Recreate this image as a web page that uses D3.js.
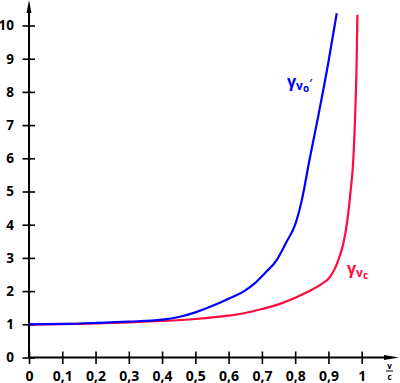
<!DOCTYPE html>
<html>
<head>
<meta charset="utf-8">
<script src="https://cdn.jsdelivr.net/npm/d3@7"></script>
<style>
  body { margin: 0; background: #fff; }
  text { font-family: "Open Sans", sans-serif; }
</style>
</head>
<body>
<div id="chart"></div>
<script>
// v/c and gamma readings for the two curves
const blueV     = [0, 0.1, 0.2, 0.3, 0.4, 0.45, 0.5, 0.55, 0.6, 0.65, 0.68, 0.71, 0.745, 0.775, 0.8, 0.82, 0.843, 0.87, 0.9, 0.925];
const blueGamma = [1, 1.01, 1.04, 1.08, 1.14, 1.22, 1.36, 1.55, 1.77, 2.02, 2.25, 2.55, 2.94, 3.5, 4.0, 4.74, 5.95, 7.3, 8.9, 10.37];
const redV      = [0, 0.2, 0.3, 0.4, 0.5, 0.6, 0.65, 0.7, 0.75, 0.8, 0.85, 0.88, 0.905, 0.93, 0.945, 0.957, 0.966, 0.975, 0.981, 0.985, 0.987];
const redGamma  = [1, 1.03, 1.06, 1.1, 1.16, 1.26, 1.34, 1.46, 1.6, 1.8, 2.04, 2.22, 2.43, 2.94, 3.44, 4.14, 4.95, 6.0, 7.5, 9.0, 10.32];

const xTicks = [0, 0.1, 0.2, 0.3, 0.4, 0.5, 0.6, 0.7, 0.8, 0.9, 1];
const yTicks = [0, 1, 2, 3, 4, 5, 6, 7, 8, 9, 10];

const WIDTH = 400;
const HEIGHT = 383;

const svg = d3.select('#chart')
    .append('svg')
    .attr('width', WIDTH)
    .attr('height', HEIGHT);

const x = d3.scaleLinear().domain([0, 1]).range([29, 361.7]);
const y = d3.scaleLinear().domain([0, 10]).range([357.5, 25.5]);

const fmt = d => d === 0 || d === 1 ? String(d) : d3.format('.1f')(d).replace('.', ',');

// x axis
const gx = svg.append('g')
    .attr('transform', `translate(0,${y(0)})`)
    .call(d3.axisBottom(x).tickValues(xTicks).tickFormat(fmt).tickSize(6).tickPadding(12));
gx.select('.domain').remove();
gx.selectAll('.tick line').attr('y1', -6).attr('y2', 6.5).attr('stroke', '#000').attr('stroke-width', 1.6);
gx.selectAll('.tick text')
    .attr('font-size', 14).attr('font-weight', 700).attr('fill', '#000')
    .attr('dy', null).attr('y', 23);

// y axis
const gy = svg.append('g')
    .attr('transform', `translate(${x(0)},0)`)
    .call(d3.axisLeft(y).tickValues(yTicks).tickSize(6).tickPadding(9));
gy.select('.domain').remove();
gy.selectAll('.tick line').attr('x1', -6.5).attr('x2', 6).attr('stroke', '#000').attr('stroke-width', 1.6);
gy.selectAll('.tick text')
    .attr('font-size', 13.5).attr('font-weight', 700).attr('fill', '#000');

// axis lines with arrows
svg.append('line')
    .attr('x1', x(0)).attr('y1', y(0))
    .attr('x2', 388).attr('y2', y(0))
    .attr('stroke', '#000').attr('stroke-width', 2);
svg.append('path')
    .attr('d', `M399,${y(0)} L384,${y(0) - 2.5} L384,${y(0) + 2.5} Z`)
    .attr('fill', '#000');

svg.append('line')
    .attr('x1', x(0)).attr('y1', y(0))
    .attr('x2', x(0)).attr('y2', 10)
    .attr('stroke', '#000').attr('stroke-width', 2);
svg.append('path')
    .attr('d', `M${x(0)},0 L${x(0) - 2.5},13 L${x(0) + 2.5},13 Z`)
    .attr('fill', '#000');

// v/c label
const vc = svg.append('g').attr('font-size', 8).attr('font-weight', 700).attr('text-anchor', 'middle');
vc.append('text').attr('x', 389.5).attr('y', 369).text('v');
vc.append('line').attr('x1', 386).attr('x2', 393).attr('y1', 371).attr('y2', 371)
    .attr('stroke', '#000').attr('stroke-width', 1);
vc.append('text').attr('x', 389.5).attr('y', 379.5).text('c');

// curves
const line = d3.line()
    .x(d => x(d[0]))
    .y(d => y(d[1]))
    .curve(d3.curveMonotoneX);

svg.append('path')
    .datum(redV.map((v, i) => [v, redGamma[i]]))
    .attr('d', line)
    .attr('fill', 'none')
    .attr('stroke', '#ff0a3c')
    .attr('stroke-width', 2.2);

svg.append('path')
    .datum(blueV.map((v, i) => [v, blueGamma[i]]))
    .attr('d', line)
    .attr('fill', 'none')
    .attr('stroke', '#0000ff')
    .attr('stroke-width', 2.2);

// curve labels
const blueLabel = svg.append('text')
    .attr('x', 287).attr('y', 87)
    .attr('fill', '#0000ff').attr('font-weight', 700).attr('font-size', 16);
blueLabel.append('tspan').text('γ');
blueLabel.append('tspan').attr('font-size', 12).attr('dy', 3).text('v');
blueLabel.append('tspan').attr('font-size', 10).attr('dy', 2).text('o');
blueLabel.append('tspan').attr('font-size', 10).attr('dy', -5).text('\u2032');

const redLabel = svg.append('text')
    .attr('x', 347).attr('y', 274)
    .attr('fill', '#ff0a3c').attr('font-weight', 700).attr('font-size', 16);
redLabel.append('tspan').text('γ');
redLabel.append('tspan').attr('font-size', 12).attr('dy', 3).text('v');
redLabel.append('tspan').attr('font-size', 10).attr('dy', 2).text('c');
</script>
</body>
</html>
